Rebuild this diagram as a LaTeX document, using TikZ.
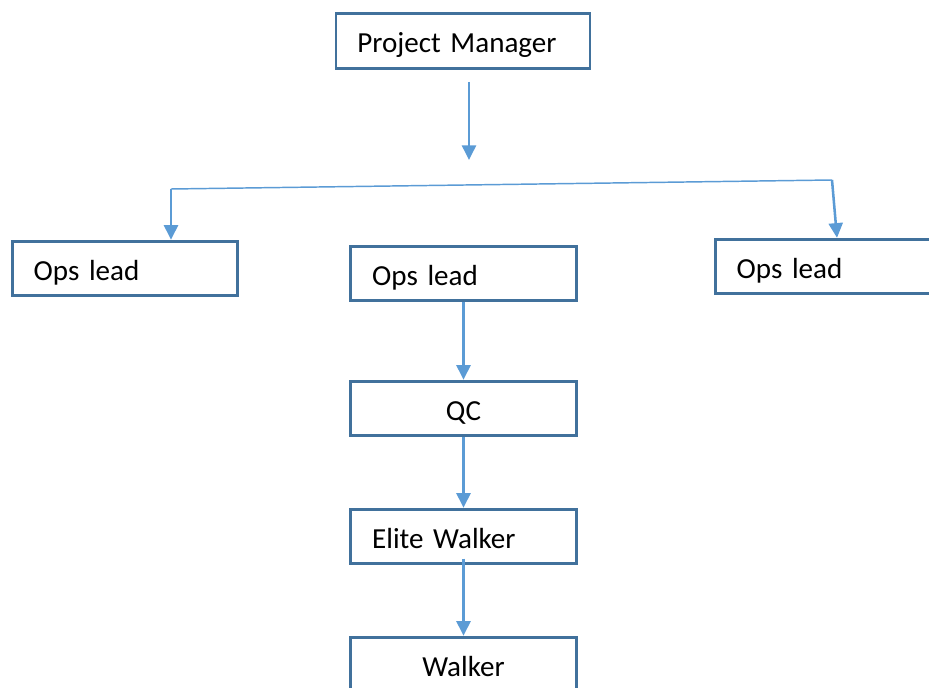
\documentclass[tikz,border=0pt]{standalone}
\usepackage{fontspec}
\setmainfont{Carlito}[WordSpace=0.7]
\usetikzlibrary{arrows.meta}
\definecolor{boxblue}{HTML}{41719C}
\definecolor{linkblue}{HTML}{5B9BD5}
\tikzset{
  rolebox/.style={draw=boxblue,line width=2.1pt,rectangle,minimum width=169pt,minimum height=41pt,
    inner xsep=16pt,text width=137pt,text height=20pt,text depth=2pt,align=left,
    font=\fontsize{21.8}{25}\selectfont},
  rolemid/.style={rolebox,align=center},
  link/.style={draw=linkblue,line width=1.9pt,-{Triangle[width=10.5pt,length=11pt]}},
  branch/.style={draw=linkblue,line width=1.1pt}
}
\begin{document}
\begin{tikzpicture}[x=0.75pt,y=-0.75pt]
            \useasboundingbox (0,0) rectangle (929,688);
            \clip (0,0) rectangle (929,688);

            \node[rolebox,minimum width=190.5pt,text width=158.5pt] (pm) at (463,41) {Project Manager};
            \node[rolebox] (opsleft) at (125,268.5) {Ops lead};
            \node[rolebox,minimum height=40pt] (opsmid) at (463.5,273.5) {Ops lead};
            \node[rolebox,inner xsep=15pt] (opsright) at (828,266.5) {Ops lead};
            \node[rolemid] (qc) at (463.5,408.5) {QC};
            \node[rolebox] (elite) at (463.5,536.5) {Elite Walker};
            \node[rolemid] (walker) at (463.5,664.5) {Walker};

            \coordinate (pmtail) at (469,82);
            \coordinate (pmtip) at (469,160);
            \coordinate (splitL) at (171,189);
            \coordinate (splitR) at (832,180);

            \draw [link] (pmtail) -- (pmtip);
            \draw [branch] (splitL) -- (splitR);
            \draw [link] (splitL) -- (splitL |- opsleft.north);
            \draw [link] (splitR) -- ([xshift=6.75pt]opsright.north);

            \draw [link] (opsmid) -- (qc);
            \draw [link] (qc) -- (elite);
            \draw [link] ([yshift=5pt]elite.south) -- (walker);
        \end{tikzpicture}
\end{document}
